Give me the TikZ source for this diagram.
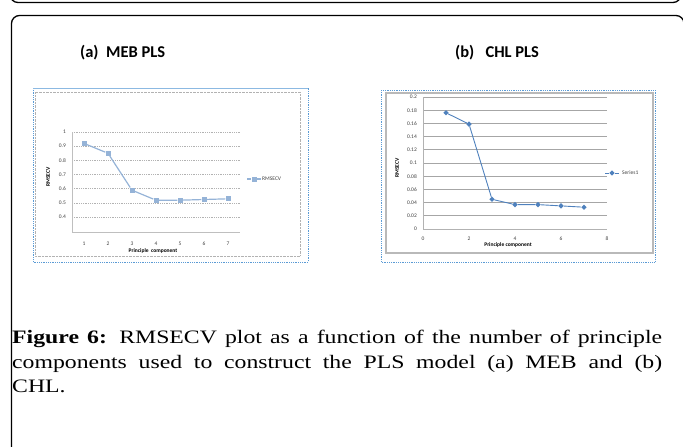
\documentclass[tikz,border=0pt]{standalone}
\usepackage{fontspec}
\setmainfont{Liberation Serif}[FakeStretch=1.25]
\newfontfamily\chartfont{Carlito}
\usetikzlibrary{shapes.geometric}

\definecolor{mebblue}{HTML}{95B3D7}
\definecolor{chlblue}{HTML}{4F81BD}
\definecolor{framedot}{HTML}{5B9BD5}

\tikzset{
  sqmark/.style={rectangle, fill=mebblue, minimum size=5pt, inner sep=0pt},
  dmark/.style={diamond, fill=chlblue, minimum size=5.5pt, inner sep=0pt},
  ticklab/.style={font=\chartfont\fontsize{5.5}{6}\selectfont, text=black!75, inner sep=0pt},
  axtitle/.style={font=\chartfont\bfseries\fontsize{5.5}{6}\selectfont, inner sep=0pt},
  paneltitle/.style={font=\chartfont\bfseries\fontsize{16.5}{18}\selectfont, anchor=west, inner sep=0pt},
}

\begin{document}
\begin{tikzpicture}[x=1pt, y=-1pt]
    \useasboundingbox (0,0) rectangle (683,447);
    \clip (0,0) rectangle (683,447);

    % outer frames
    \draw[line width=1.3pt, rounded corners=8pt] (10,-30) rectangle (681,2.5);
    \draw[line width=1.3pt, rounded corners=8pt] (11.5,15.5) rectangle (684,470);

    % panel titles
    \node[paneltitle] (titleA) at (80,53) {(a)\ \ MEB PLS};
    \node[paneltitle] (titleB) at (455,53) {(b)\ \ \ CHL PLS};

    % panel (a): frame
    \draw[framedot, densely dotted, line width=0.8pt] (33,88) rectangle (308,262);
    \draw[framedot!70, line width=0.8pt] (33,88) -- (308,88);
    \draw[gray!60, densely dotted] (35,92) rectangle (300,256);

    % panel (a): grid and axes
    \foreach \t [count=\k from 0] in {1,0.9,0.8,0.7,0.6,0.5,0.4} {
        \draw[gray!60, densely dotted, line width=0.8pt] (72,132+\k*14.2) -- (240,132+\k*14.2);
        \node[ticklab, anchor=east] (ya\k) at (66,132+\k*14.2) {\t};
    }
    \draw[gray!50] (72,132) -- (72,232) -- (240,232);
    \foreach \i in {1,...,7}
        \node[ticklab] (xa\i) at (60+\i*24,244) {\i};
    \node[axtitle] (xtitleA) at (153,251) {Principle\ \ component};
    \node[axtitle, rotate=90] (ytitleA) at (48,177) {RMSECV};

    % panel (a): data
    \node[sqmark] (a1) at (84,143.4) {};
    \node[sqmark] (a2) at (108,153.3) {};
    \node[sqmark] (a3) at (132,190.2) {};
    \node[sqmark] (a4) at (156,200.2) {};
    \node[sqmark] (a5) at (180,200.2) {};
    \node[sqmark] (a6) at (204,199.5) {};
    \node[sqmark] (a7) at (228,198.8) {};
    \draw[mebblue, line width=1.2pt] (a1) -- (a2) -- (a3) -- (a4) -- (a5) -- (a6) -- (a7);

    % panel (a): legend
    \node[sqmark] (legA) at (254,179) {};
    \coordinate (legAl) at (247,179);
    \coordinate (legAr) at (261,179);
    \draw[mebblue, line width=1.2pt] (legAl) -- (legA) -- (legAr);
    \node[ticklab, anchor=west] (legAtext) at (262,179) {RMSECV};

    % panel (b): frame
    \draw[framedot, densely dotted, line width=0.8pt] (381,90) rectangle (655,262);
    \draw[gray!55, line width=1.2pt] (386,93) rectangle (653,253);

    % panel (b): grid and axes
    \foreach \t [count=\k from 0] in {0,0.02,0.04,0.06,0.08,0.1,0.12,0.14,0.16,0.18,0.2} {
        \ifnum\k>0
            \draw[gray!70, line width=0.9pt] (423,229-\k*13.2) -- (607,229-\k*13.2);
        \fi
        \node[ticklab, anchor=east] (yb\k) at (417,229-\k*13.2) {\t};
    }
    \draw[gray!60] (423,97) -- (423,229) -- (607,229);
    \foreach \i in {0,2,4,6,8}
        \node[ticklab] (xb\i) at (423+\i*23,239) {\i};
    \node[axtitle] (xtitleB) at (508,245) {Principle component};
    \node[axtitle, rotate=90] (ytitleB) at (397,168) {RMSECV};

    % panel (b): data
    \node[dmark] (b1) at (446,112.8) {};
    \node[dmark] (b2) at (469,124.1) {};
    \node[dmark] (b3) at (492,199.3) {};
    \node[dmark] (b4) at (515,204.6) {};
    \node[dmark] (b5) at (538,204.6) {};
    \node[dmark] (b6) at (561,205.9) {};
    \node[dmark] (b7) at (584,207.2) {};
    \draw[chlblue, line width=0.9pt] (b1) -- (b2) -- (b3) -- (b4) -- (b5) -- (b6) -- (b7);

    % panel (b): legend
    \node[dmark] (legB) at (612,173) {};
    \coordinate (legBl) at (605,173);
    \coordinate (legBr) at (619,173);
    \draw[chlblue, line width=0.9pt] (legBl) -- (legB) -- (legBr);
    \node[ticklab, anchor=west] (legBtext) at (622,173) {Series1};

    % caption
    \node[anchor=north west, text width=650pt, align=justify, inner sep=0pt,
          font=\fontsize{19}{24.5}\selectfont] (caption) at (12,330)
        {\hyphenpenalty=10000 \textbf{Figure 6:} RMSECV plot as a function of the number of principle\linebreak
         components used to construct the PLS model (a) MEB and (b)\linebreak
         CHL.};
\end{tikzpicture}
\end{document}
